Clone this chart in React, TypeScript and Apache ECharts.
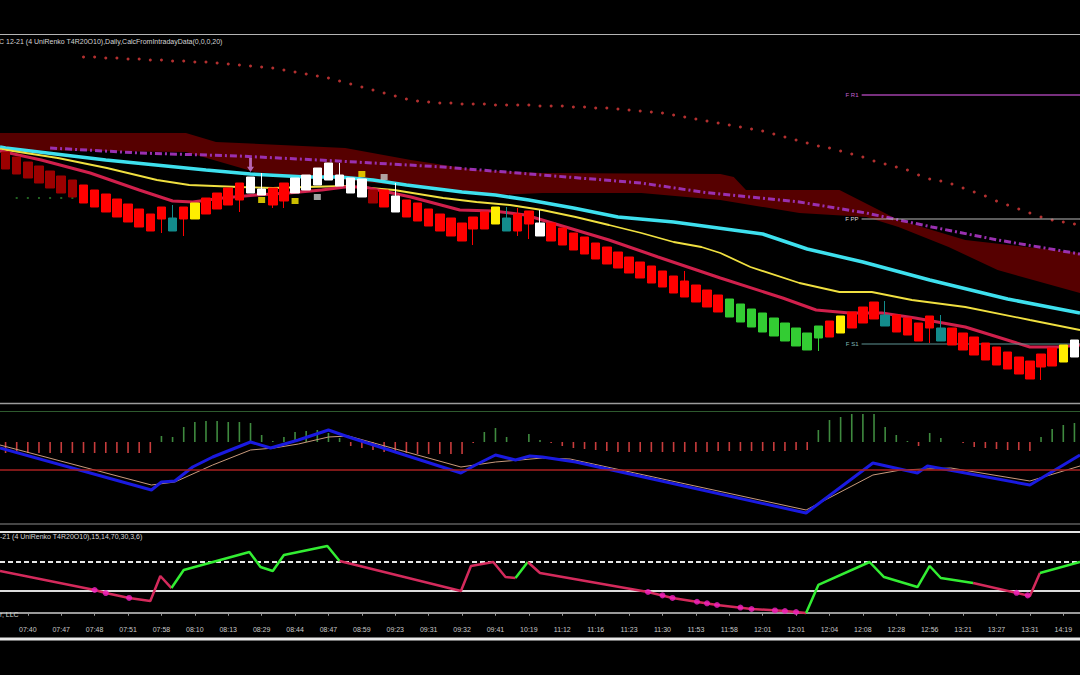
import React, { useEffect, useRef } from "react";
import * as echarts from "echarts";

// ---------- x axis ----------
const timeLabels = ["07:40","07:47","07:48","07:51","07:58","08:10","08:13","08:29","08:44","08:47","08:59","09:23","09:31","09:32","09:41","10:19","11:12","11:16","11:23","11:30","11:53","11:58","12:01","12:01","12:04","12:08","12:28","12:56","13:21","13:27","13:31","14:19"];
const barCount = 97;

// ---------- price panel (renko bricks) ----------
const bodyTop = [
  251,246,241,237,232,227,223,218,213,209,
  204,199,194,189,196,185,196,200,205,210,
  215,220,226,214,215,220,225,228,235,240,
  228,225,224,213,213,207,203,200,194,189,
  185,180,186,191,196,185,189,192,180,180,
  175,170,166,160,156,151,146,141,137,132,
  127,122,118,113,108,104,99,94,90,85,
  80,75,70,77,82,87,91,96,101,88,
  88,85,80,87,75,75,70,66,60,56,
  51,46,42,49,55,58,63];
const bodyBottom = [
  234,229,225,220,215,210,206,200,196,191,
  186,181,176,172,184,172,184,184,189,194,
  198,203,210,208,198,202,210,213,218,223,
  217,210,206,200,196,191,186,182,177,172,
  167,162,174,174,179,172,172,179,167,162,
  158,153,149,144,139,135,130,125,120,116,
  110,106,101,96,91,86,81,76,71,67,
  62,57,53,65,66,70,75,80,84,77,
  71,68,62,75,62,58,53,48,43,38,
  34,29,24,36,37,41,46];
const wickHigh = [
  251,246,241,237,232,227,223,218,213,209,
  204,199,194,189,196,198,196,200,205,210,
  215,220,226,230,215,220,225,228,235,240,
  240,225,224,213,213,220,203,200,194,189,
  185,180,186,191,196,196,195,192,193,180,
  175,170,166,160,156,151,146,141,137,132,
  127,132,118,113,108,104,99,94,90,85,
  80,75,70,77,82,87,91,96,101,102,
  88,85,80,87,88,75,70,66,60,56,
  51,46,42,49,55,58,63];
const wickLow = [
  234,229,225,220,215,210,206,200,196,191,
  186,181,176,172,170,172,167,184,189,194,
  198,191,210,208,195,195,210,213,218,223,
  217,210,206,200,196,191,186,182,177,172,
  167,162,158,174,179,172,167,164,167,162,
  158,153,149,144,139,135,130,125,120,116,
  110,106,101,96,91,86,81,76,71,67,
  62,57,53,52,66,70,75,80,84,77,
  71,68,62,60,62,58,53,48,43,38,
  34,29,24,23,37,41,46];
const brickColors = (
  "DDDDDDDRRR" + "RRRRRTRYRR" + "RRWWRRWWWW" + "WWWDRWRRRR" + "RRRRYTRRWR" +
  "RRRRRRRRRR" + "RRRRRGGGGG" + "GGGGRYRRRT" + "RRRRTRRRRR" + "RRRRRYW").split("");

// stop-and-reverse dots (null where absent)
const sarValues = [
  null,null,null,null,null,null,null,346,346,345,
  345,344,344,343,343,342,342,341,341,340,
  339,338,337,336,335,333,331,329,327,325,
  322,319,316,313,310,307,304,302,301,300,
  300,299,299,299,298,298,298,298,297,297,
  297,296,296,295,295,294,293,292,291,290,
  288,286,284,282,280,278,276,274,272,269,
  266,263,260,257,255,252,249,246,242,239,
  236,233,228,224,222,219,215,211,207,202,
  198,194,190,186,183,181,179];

// moving averages: [bar position, value]
const cyanMA = [[-0.5,256],[0,255],[9,243],[18,233],[22,229],[27,226],[30,226],[33,223],[36,218],[41,211],[44,208],[47,203],[51,195],[55,186],[60,181],[64,175],[68,169],[72,154],[77,141],[83,123],[90,104],[96.5,90]];
const yellowMA = [[-0.5,254],[4.7,245],[9.1,235],[13.6,223],[16.5,218],[21,216],[24,215],[27,216],[30.5,217],[34.9,213],[39.3,205],[42.3,201],[45.3,198],[48.2,193],[51.2,186],[54.2,178],[57.1,170],[60,161],[62.5,156],[64.2,150],[66.9,136],[71.3,120],[74.9,111],[77.8,111],[81.4,103],[86.2,96],[92,83],[96.5,73]];
const redMA = [[-0.5,252],[3.2,243],[7.6,230],[12,213],[15,202],[16.8,201],[19.5,205],[22.5,208],[25.4,210],[28.4,213],[30.5,216],[32.2,216],[36.4,206],[40.8,193],[43.8,192],[46.7,188],[49.7,178],[54.2,163],[58.6,146],[64.2,125],[69.8,105],[72.8,93],[75.8,90],[78.7,90],[81.7,85],[86.2,76],[89.1,66],[92,56],[94.5,56],[96.5,58]];
const purpleMA = [[4,255],[12,250],[20.9,247],[29.8,242],[39.3,236],[48.2,228],[57.1,220],[62.5,211],[71.3,201],[77.3,190],[83.2,176],[89.1,163],[96.5,149]];
const bandTop = [[-0.5,270],[16.2,270],[18.9,261],[30.5,255],[36.4,243],[42.3,233],[48.2,230],[64.2,229],[65.4,226],[66.5,213],[74.9,213],[80.2,183],[86.2,163],[96.5,150]];
const bandBottom = [[-0.5,253],[16.2,251],[22.4,231],[30.5,223],[39.3,213],[43.8,208],[48.2,210],[57.1,210],[64.2,203],[71.3,190],[77.3,186],[80.2,176],[84.7,156],[89.1,133],[96.5,110]];

// floor pivots
const pivotNames = ["F R1", "F PP", "F S1"];
const pivotValues = [308, 184, 59];
const pivotStart = 76.9;

// signal markers
const greenDotBars = [1, 2, 3, 4, 5, 6];
const greenDotValue = 205;
const yellowMarks = [[23, 203], [26, 202], [32, 229]];
const grayMarks = [[28, 206], [34, 226]];
const arrowMarks = [[22, 238]];

// ---------- MACD panel ----------
const histValues = [
  -11,-11,-11,-11,-11,-11,-11,-11,-11,-11,
  -11,-11,-11,-11,6,5,15,20,21,21,
  20,20,19,7,1,5,10,11,12,9,
  4,-4,-6,-8,-10,-11,-11,-12,-12,-12,
  -12,-12,-1,10,14,5,0,8,2,-1,
  -4,-6,-7,-8,-9,-10,-10,-10,-10,-10,
  -10,-10,-10,-10,-9,-9,-9,-9,-9,-9,
  -9,-8,-8,12,22,25,28,28,28,15,
  7,1,-4,9,4,0,-1,-5,-6,-7,
  -8,-8,-9,5,13,17,19];
const macdLine = [[-0.5,22],[13.1,-20],[14,-12],[15.2,-11],[16.8,3],[18.6,13],[22,28],[23.8,22],[26.3,30],[29,40],[30.8,33],[40.9,-3],[42.2,5],[44,15],[45.8,10],[47.1,14],[48.2,13],[51.2,8],[71.9,-43],[77.9,7],[81.9,-3],[82.8,4],[92,-15],[96.5,15]];
const signalLine = [[-0.5,25],[13.1,-15],[15.2,-12],[18.6,5],[22,20],[24.1,22],[26.3,26],[29,33],[30.8,34],[40.9,3],[44,8],[46.2,10],[48.2,12],[50.7,11],[71.9,-40],[77.9,-5],[80.4,0],[84.9,2],[92,-11],[96.5,4]];

// ---------- RSI panel ----------
const rsiX = [-0.5,8.0,9.0,11.1,13.0,13.9,14.9,16.0,21.9,22.9,24.0,25.0,28.9,30.0,40.9,41.8,43.8,44.9,45.8,46.9,48.0,57.7,59.9,63.9,67.0,70.0,71.9,73.0,77.6,78.9,81.9,83.0,84.0,86.9,92.0,92.9,96.5];
const rsiY = [57.6,31.4,27.2,20.4,16.2,50.7,34.1,59,83.8,63.1,57.6,79.7,92.1,71.4,30,64.5,70,49.3,47.9,70,54.8,28.6,20.4,10.7,5.2,2.4,-0.3,38.3,70,49.3,35.5,64.5,47.9,41,23.1,54.8,70];
const rsiSegColors = ("rrrrrr" + "ggggggg" + "rrrrr" + "g" + "rrrrrrr" + "ggggggg" + "rr" + "g").split("");
const rsiDots = [[8.0,31.4],[9.0,27.2],[11.1,20.4],[57.7,28.6],[59.0,24],[59.9,20.4],[62.1,15.2],[63.0,13],[63.9,10.7],[66.0,7.2],[67.0,5.2],[69.1,3.2],[70.0,2.4],[71.0,1.0],[90.8,27.5],[91.8,24]];
const rsiUpper = 70;
const rsiLower = 30;

const colorMap: Record<string, string> = {
  D: "#9c0000", R: "#ff0000", G: "#33cc33", Y: "#ffee00", T: "#138c8c", W: "#ffffff",
};
const FONT = '"Liberation Sans", Arial, sans-serif';

function buildOption() {
  const barIds = Array.from({ length: barCount }, (_, i) => String(i));
  const labelAt = (i: number) => i % 3 === 2;
  const gridBase = { left: -8, width: 1091.25 };

  const candleData = bodyTop.map((t, i) => {
    const c = colorMap[brickColors[i]];
    return {
      value: [bodyBottom[i], t, wickLow[i], wickHigh[i]],
      itemStyle: { color: c, color0: c, borderColor: c, borderColor0: c, borderWidth: 1 },
    };
  });

  const pivotColors = ["#a040a8", "#b8b8b8", "#5e9494"];
  const pivotLabelColors = ["#c060d0", "#dddddd", "#80b8b8"];

  const rsiSeries: any[] = [];
  let runStart = 0;
  for (let s = 1; s <= rsiSegColors.length; s++) {
    if (s === rsiSegColors.length || rsiSegColors[s] !== rsiSegColors[runStart]) {
      const pts: number[][] = [];
      for (let k = runStart; k <= s; k++) pts.push([rsiX[k], rsiY[k]]);
      rsiSeries.push({
        type: "line", xAxisIndex: 5, yAxisIndex: 3, data: pts, showSymbol: false, symbol: "none",
        lineStyle: { color: rsiSegColors[runStart] === "g" ? "#33ee33" : "#d42a5c", width: 2.5 },
        silent: true, z: 5,
      });
      runStart = s;
    }
  }

  const series: any[] = [
    {
      type: "custom", xAxisIndex: 1, yAxisIndex: 0, silent: true, data: [[0, 0]], z: 1,
      renderItem: (_p: any, api: any) => {
        const pts = [
          ...bandTop.map((p) => api.coord(p)),
          ...bandBottom.slice().reverse().map((p) => api.coord(p)),
        ];
        return { type: "polygon", shape: { points: pts }, style: { fill: "#560000" } };
      },
    },
    {
      type: "line", xAxisIndex: 1, yAxisIndex: 0, data: purpleMA, symbol: "none", silent: true, z: 2,
      lineStyle: { color: "#9a30b0", width: 3, type: [7, 3, 2, 3] },
    },
    {
      type: "scatter", xAxisIndex: 0, yAxisIndex: 0, silent: true, z: 2,
      data: sarValues.map((v) => (v == null ? "-" : v)), symbol: "circle", symbolSize: 3,
      itemStyle: { color: "#e03c3c" },
    },
    {
      type: "line", xAxisIndex: 1, yAxisIndex: 0, data: cyanMA, symbol: "none", silent: true, z: 3,
      lineStyle: { color: "#3ee0ee", width: 3.5 },
    },
    {
      type: "line", xAxisIndex: 1, yAxisIndex: 0, data: yellowMA, symbol: "none", silent: true, z: 3,
      lineStyle: { color: "#f0e040", width: 1.8 },
    },
    {
      type: "line", xAxisIndex: 1, yAxisIndex: 0, data: redMA, symbol: "none", silent: true, z: 3,
      lineStyle: { color: "#d0204c", width: 3 },
    },
    ...pivotNames.map((name, k) => ({
      type: "line", xAxisIndex: 1, yAxisIndex: 0, silent: true, z: 3,
      data: [[pivotStart, pivotValues[k]], [96.5, pivotValues[k]]],
      showSymbol: true, symbol: "circle", symbolSize: 0.5,
      itemStyle: { color: pivotColors[k] },
      lineStyle: { color: pivotColors[k], width: k === 0 ? 1.5 : 1.2 },
      label: {
        show: true, position: "left", distance: 3,
        formatter: (p: any) => (p.dataIndex === 0 ? name : ""),
        color: pivotLabelColors[k], fontSize: 6, fontFamily: FONT,
      },
    })),
    {
      type: "scatter", xAxisIndex: 0, yAxisIndex: 0, silent: true, z: 4,
      data: greenDotBars.map((b) => [b, greenDotValue]), symbol: "rect", symbolSize: 2,
      itemStyle: { color: "#2a7a2a" },
    },
    {
      type: "candlestick", xAxisIndex: 0, yAxisIndex: 0, data: candleData, barWidth: 9, silent: true, z: 5,
    },
    {
      type: "scatter", xAxisIndex: 0, yAxisIndex: 0, silent: true, z: 6,
      data: yellowMarks, symbol: "rect", symbolSize: [7, 6], itemStyle: { color: "#ffee00" },
    },
    {
      type: "scatter", xAxisIndex: 0, yAxisIndex: 0, silent: true, z: 6,
      data: grayMarks, symbol: "rect", symbolSize: [7, 6], itemStyle: { color: "#c8c8c8" },
    },
    {
      type: "scatter", xAxisIndex: 0, yAxisIndex: 0, silent: true, z: 6,
      data: arrowMarks, symbol: "path://M3 0 H7 V10 H10 L5 16 L0 10 H3 Z", symbolSize: [7, 14],
      itemStyle: { color: "#d07ee0" },
    },
    // MACD
    {
      type: "bar", xAxisIndex: 2, yAxisIndex: 2, data: histValues, barWidth: 1.6, silent: true,
      itemStyle: { color: (p: any) => (p.value >= 0 ? "#3f8a3f" : "#c83c3c") },
    },
    {
      type: "line", xAxisIndex: 3, yAxisIndex: 1, data: signalLine, symbol: "none", silent: true,
      lineStyle: { color: "#c89a7c", width: 1 },
      markLine: {
        silent: true, symbol: ["none", "none"], label: { show: false },
        lineStyle: { color: "#a82020", width: 1.5, type: "solid" },
        data: [{ yAxis: 0 }],
      },
    },
    {
      type: "line", xAxisIndex: 3, yAxisIndex: 1, data: macdLine, symbol: "none", silent: true,
      lineStyle: { color: "#1a1ae0", width: 3 },
    },
    // RSI
    {
      type: "line", xAxisIndex: 5, yAxisIndex: 3, data: [], symbol: "none", silent: true,
      markLine: {
        silent: true, symbol: ["none", "none"], label: { show: false },
        data: [
          { yAxis: rsiUpper, lineStyle: { color: "#e8e8e8", width: 2, type: [5, 3] } },
          { yAxis: rsiLower, lineStyle: { color: "#dcdcdc", width: 2, type: "solid" } },
        ],
      },
    },
    ...rsiSeries,
    {
      type: "scatter", xAxisIndex: 5, yAxisIndex: 3, data: rsiDots, symbol: "circle", symbolSize: 6,
      silent: true, z: 6, itemStyle: { color: "#f020c0" },
    },
  ];

  const hLine = (y: number, color: string, width: number) => ({
    type: "line", silent: true, z: 10,
    shape: { x1: 0, y1: y, x2: 1080, y2: y },
    style: { stroke: color, lineWidth: width },
  });
  const text = (left: number, top: number, t: string) => ({
    type: "text", left, top, silent: true, z: 10,
    style: { text: t, fill: "#d4d4d4", fontSize: 7, fontFamily: FONT },
  });

  return {
    animation: false,
    backgroundColor: "#000000",
    textStyle: { fontFamily: FONT },
    grid: [
      { ...gridBase, top: 34, height: 369 },
      { ...gridBase, top: 411, height: 113 },
      { ...gridBase, top: 532, height: 89 },
    ],
    xAxis: [
      { type: "category", gridIndex: 0, data: barIds, show: false },
      { type: "value", gridIndex: 0, min: -0.5, max: 96.5, show: false },
      { type: "category", gridIndex: 1, data: barIds, show: false },
      { type: "value", gridIndex: 1, min: -0.5, max: 96.5, show: false },
      {
        type: "category", gridIndex: 2, data: barIds, position: "bottom",
        axisLine: { show: true, lineStyle: { color: "#9a9a9a", width: 2 } },
        axisTick: { show: true, alignWithLabel: true, interval: (i: number) => labelAt(i), length: 3, lineStyle: { color: "#9a9a9a" } },
        axisLabel: {
          interval: (i: number) => labelAt(i),
          formatter: (_v: string, i: number) => (labelAt(i) ? timeLabels[(i - 2) / 3] : ""),
          color: "#c8c8c8", fontSize: 7, margin: 5, fontFamily: FONT,
        },
        splitLine: { show: false },
      },
      { type: "value", gridIndex: 2, min: -0.5, max: 96.5, show: false },
    ],
    yAxis: [
      { type: "value", gridIndex: 0, min: 0, max: 369, show: false },
      { type: "value", gridIndex: 1, min: -54, max: 59, show: false },
      { type: "value", gridIndex: 1, min: -82, max: 31, show: false },
      { type: "value", gridIndex: 2, min: -11.38, max: 111.38, show: false },
    ],
    graphic: [
      hLine(34.5, "#b4b4b4", 1),
      hLine(403.5, "#9c9c9c", 1.5),
      hLine(411.5, "#2e5a2e", 1.2),
      hLine(524, "#8c8c8c", 1.2),
      hLine(532, "#e4e4e4", 2),
      hLine(639, "#e8e8e8", 3),
      text(-1, 38, "C 12-21 (4 UniRenko T4R20O10),Daily,CalcFromIntradayData(0,0,0,20)"),
      text(0, 533, "-21 (4 UniRenko T4R20O10),15,14,70,30,3,6)"),
      text(0, 611, "r, LLC"),
    ],
    series,
  };
}

export default function App() {
  const ref = useRef<HTMLDivElement>(null);
  useEffect(() => {
    document.body.style.margin = "0";
    document.body.style.background = "#000";
    const chart = echarts.init(ref.current!, null, { renderer: "svg" });
    chart.setOption(buildOption() as any);
    return () => chart.dispose();
  }, []);
  return (
    <div
      ref={ref}
      style={{ position: "absolute", left: 0, top: 0, width: 1080, height: 675, background: "#000" }}
    />
  );
}
